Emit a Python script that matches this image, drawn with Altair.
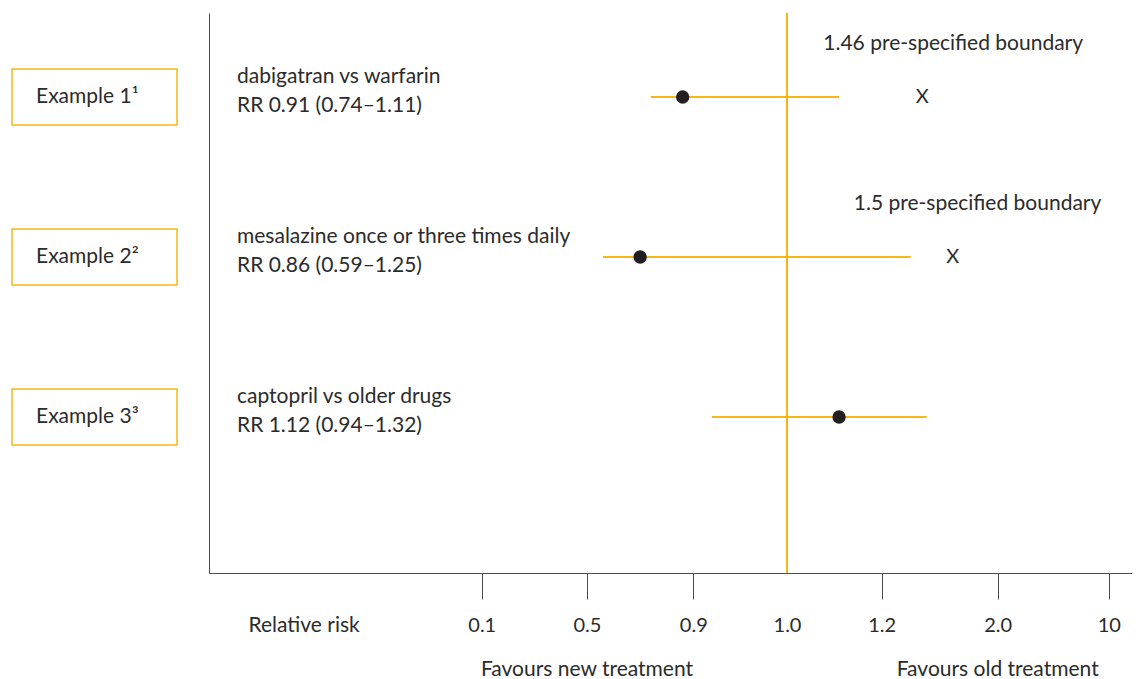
import altair as alt
import pandas as pd

# ---------------- data ----------------
examples = ["Example 1\u00b9", "Example 2\u00b2", "Example 3\u00b3"]
comparisons = ["dabigatran vs warfarin",
               "mesalazine once or three times daily",
               "captopril vs older drugs"]
rr_labels = ["RR 0.91 (0.74\u20131.11)",
             "RR 0.86 (0.59\u20131.25)",
             "RR 1.12 (0.94\u20131.32)"]
rows = [1, 2, 3]
point_rr = [0.86, 0.70, 1.11]
lower_ci = [0.74, 0.56, 0.92]
upper_ci = [1.11, 1.40, 1.51]

boundary_rows = [1, 2]
boundary_rr = [1.48, 1.69]
boundary_labels = ["1.46 pre-specified boundary", "1.5 pre-specified boundary"]

tick_values = [0.1, 0.5, 0.9, 1.0, 1.2, 2.0, 10]
favours_text = ["Favours new treatment", "Favours old treatment"]
favours_at = [0.5, 2.0]

# ---------------- styling / layout ----------------
ORANGE = "#FBB616"
INK = "#2b2b2b"
AXIS = "#4d4d4d"
FONT = "Lato"
FS = 21

W_MAIN = 923
W_LEFT = 165
H = 560

# the printed axis is schematic: piecewise-linear scale between the ticks
tick_frac = [0.2955, 0.4095, 0.5247, 0.6262, 0.7288, 0.8545, 0.9748]
x_scale = alt.Scale(domain=[0] + tick_values + [12],
                    range=[0] + [f * W_MAIN for f in tick_frac] + [W_MAIN],
                    nice=False, zero=False)
y_scale = alt.Scale(domain=[0.475, 3.975], reverse=True, nice=False, zero=False)

df = pd.DataFrame({"row": rows, "example": examples, "comparison": comparisons,
                   "rr_label": rr_labels, "point": point_rr,
                   "lo": lower_ci, "hi": upper_ci})
bdf = pd.DataFrame({"row": boundary_rows, "boundary": boundary_rr,
                    "label": boundary_labels})
fdf = pd.DataFrame({"text": favours_text, "at": favours_at})

x_axis = alt.Axis(values=tick_values,
                  labelExpr="datum.value == 10 ? '10' : format(datum.value, '.1f')",
                  title="Relative risk", titleX=39, titleY=52,
                  titleAlign="left", titleBaseline="middle",
                  titleFontWeight="normal", titleFontSize=FS, titleColor=INK,
                  titleFont=FONT,
                  labelFontSize=FS - 1, labelColor=INK, labelFont=FONT,
                  labelPadding=16,
                  tickSize=26,
                  tickColor={"condition": {"test": "datum.value == 1", "value": "transparent"},
                             "value": AXIS},
                  domainColor=AXIS, grid=False, labelFlush=False)
y_axis = alt.Axis(title=None, labels=False, ticks=False, grid=False,
                  domainColor=AXIS)

base = alt.Chart(df)

ref_line = alt.Chart(df).mark_rule(color=ORANGE, strokeWidth=2).encode(
    x=alt.datum(1.0))

bars = base.mark_rule(color=ORANGE, strokeWidth=2).encode(
    x=alt.X("lo:Q", scale=x_scale, axis=x_axis),
    x2="hi:Q",
    y=alt.Y("row:Q", scale=y_scale, axis=y_axis))

dots = base.mark_circle(size=177, color="#231f20", opacity=1).encode(
    x=alt.X("point:Q", scale=x_scale),
    y=alt.Y("row:Q", scale=y_scale))

label1 = base.mark_text(align="left", baseline="middle", dy=-20,
                        font=FONT, fontSize=FS, color=INK).encode(
    x=alt.value(28), y=alt.Y("row:Q", scale=y_scale), text="comparison:N")
label2 = base.mark_text(align="left", baseline="middle", dy=9,
                        font=FONT, fontSize=FS, color=INK).encode(
    x=alt.value(28), y=alt.Y("row:Q", scale=y_scale), text="rr_label:N")

xmarks = alt.Chart(bdf).mark_text(text="X", align="center", baseline="middle",
                                  font=FONT, fontSize=FS - 1, color=INK).encode(
    x=alt.X("boundary:Q", scale=x_scale), y=alt.Y("row:Q", scale=y_scale))
blabels = alt.Chart(bdf).mark_text(align="left", baseline="middle", dx=-99, dy=-53,
                                   font=FONT, fontSize=FS, color=INK).encode(
    x=alt.X("boundary:Q", scale=x_scale), y=alt.Y("row:Q", scale=y_scale),
    text="label:N")

favours = alt.Chart(fdf).mark_text(align="center", baseline="middle",
                                   font=FONT, fontSize=FS, color=INK).encode(
    x=alt.X("at:Q", scale=x_scale), y=alt.value(H + 97), text="text:N")

main = alt.layer(ref_line, bars, dots, label1, label2, xmarks, blabels, favours
                 ).properties(width=W_MAIN, height=H)

# left column of example boxes
left_base = alt.Chart(df).transform_calculate(
    y0="datum.row - 0.175", y1="datum.row + 0.175")
boxes = left_base.mark_rect(fill="white", stroke=ORANGE, strokeWidth=1.5).encode(
    x=alt.value(0), x2=alt.value(W_LEFT),
    y=alt.Y("y0:Q", scale=y_scale, axis=None), y2="y1:Q")
box_text = left_base.mark_text(align="left", baseline="middle",
                               font=FONT, fontSize=FS, color=INK).encode(
    x=alt.value(24), y=alt.Y("row:Q", scale=y_scale, axis=None), text="example:N")
left = alt.layer(boxes, box_text).properties(width=W_LEFT, height=H)

chart = alt.hconcat(left, main, spacing=31).properties(
    padding={"left": 3, "top": 4, "right": 0, "bottom": 0},
    background="white"
).configure_view(stroke=None)

chart.save("out.html", embed_options={"renderer": "svg", "actions": False})
